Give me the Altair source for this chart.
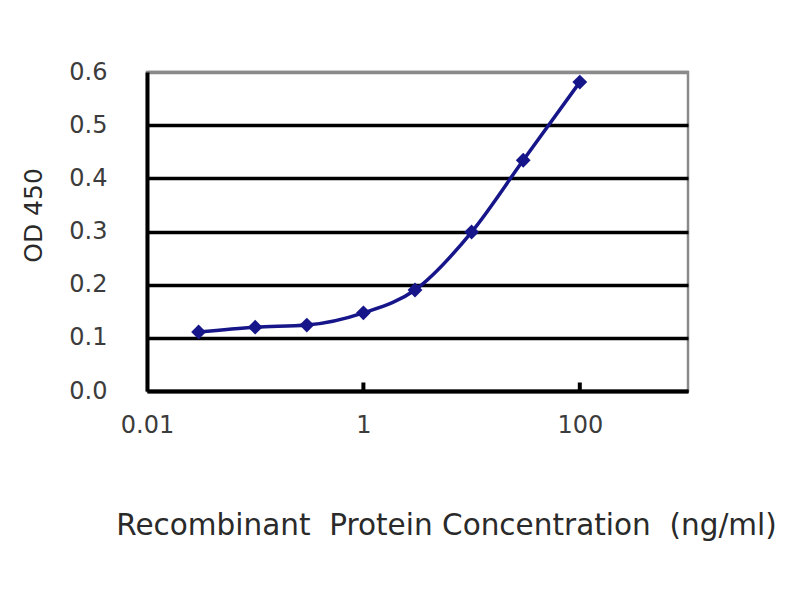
import altair as alt
import pandas as pd

conc = [0.03, 0.1, 0.3, 1, 3, 10, 30, 100]
od450 = [0.111, 0.120, 0.124, 0.147, 0.190, 0.299, 0.434, 0.581]
x_ticks = [0.01, 1, 100]
inner_ticks = [1, 100]
y_ticks = [0.0, 0.1, 0.2, 0.3, 0.4, 0.5, 0.6]

df = pd.DataFrame({"conc": conc, "od": od450})
tick_df = pd.DataFrame({"t": inner_ticks})

FONT = "DejaVu Sans"
NB = "\u00a0"

xscale = alt.Scale(type="log", domain=[0.01, 1000], nice=False)
yscale = alt.Scale(domain=[0, 0.6], nice=False)

xaxis = alt.Axis(
    values=x_ticks,
    labelExpr="datum.value == 0.01 ? '0.01' : format(datum.value, 'd')",
    title=f"Recombinant{NB}{NB}Protein Concentration{NB}{NB}(ng/ml)",
    titleFont=FONT, titleFontSize=29.5, titleFontWeight="normal", titleColor="#2a2a2a",
    titleX=299, titleY=120, titleBaseline="top", titleAlign="center",
    labelFont=FONT, labelFontSize=24, labelColor="#3c3c3c", labelPadding=22,
    labelFlush=False,
    ticks=False, grid=False,
    domainColor="black", domainWidth=4,
)

yaxis = alt.Axis(
    values=y_ticks, format=".1f",
    title="OD 450",
    titleFont=FONT, titleFontSize=25, titleFontWeight="normal", titleColor="#2a2a2a",
    titleX=-114, titleY=143, titleAngle=270, titleBaseline="middle", titleAlign="center",
    labelFont=FONT, labelFontSize=24, labelColor="#3c3c3c", labelPadding=40,
    ticks=False,
    grid=True, gridWidth=3.5,
    gridColor={"condition": {"test": "datum.value >= 0.6", "value": "#8a8a8a"}, "value": "black"},
    domainColor="black", domainWidth=4,
)

base = alt.Chart(df)

line = base.mark_line(color="#16168a", strokeWidth=3.5, interpolate="monotone").encode(
    x=alt.X("conc:Q", scale=xscale, axis=xaxis),
    y=alt.Y("od:Q", scale=yscale, axis=yaxis),
)

points = base.mark_point(shape="diamond", filled=True, size=220, color="#16168a", opacity=1).encode(
    x=alt.X("conc:Q", scale=xscale),
    y=alt.Y("od:Q", scale=yscale),
)

ticks = alt.Chart(tick_df).mark_rule(color="black", strokeWidth=4).encode(
    x=alt.X("t:Q", scale=xscale),
    y=alt.datum(0),
    y2=alt.datum(0.016),
)

chart = alt.layer(ticks, line, points).properties(
    width=541, height=319,
    padding={"left": 139, "top": 64, "right": 100, "bottom": 190},
    autosize=alt.AutoSizeParams(type="none"),
    background="white",
).configure_view(stroke="#8a8a8a", strokeWidth=2.5)

chart.save("out.html", embed_options={"renderer": "svg", "actions": False})
